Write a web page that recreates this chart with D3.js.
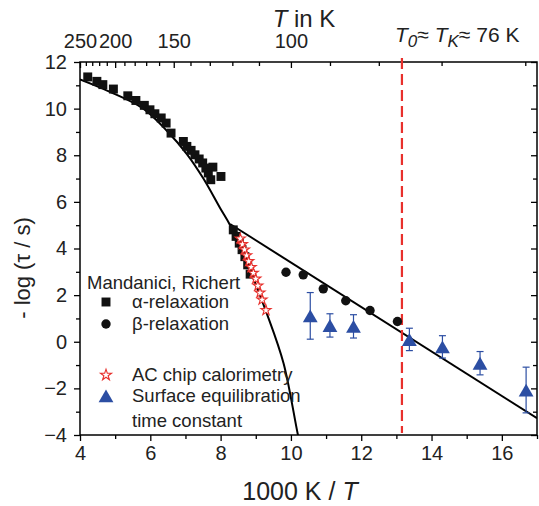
<!DOCTYPE html>
<html>
<head>
<meta charset="utf-8">
<script src="https://cdn.jsdelivr.net/npm/d3@7"></script>
<style>
    body { margin: 0; background: #fff; }
    svg { display: block; font-family: "Liberation Sans", Arial, sans-serif; }
</style>
</head>
<body>
<div id="chart"></div>
<script>
// Mandanici, Richert alpha relaxation (1000K/T, -log tau)
const alphaX = [4.22, 4.48, 4.65, 4.95, 5.36, 5.59, 5.83, 5.99, 6.13, 6.31, 6.45, 6.59, 6.94, 7.04, 7.16, 7.27, 7.39, 7.49, 7.58, 7.65, 7.72, 7.78, 8.01, 8.36, 8.44, 8.53, 8.61, 8.69, 8.77, 8.84];
const alphaY = [11.36, 11.17, 11.03, 10.84, 10.55, 10.35, 10.14, 9.95, 9.78, 9.60, 9.38, 8.95, 8.59, 8.38, 8.21, 8.02, 7.84, 7.67, 7.45, 7.24, 6.95, 7.49, 7.09, 4.80, 4.52, 4.23, 3.95, 3.65, 3.30, 2.90];

// beta relaxation
const betaX = [9.86, 10.35, 10.92, 11.56, 12.25, 13.03];
const betaY = [2.98, 2.87, 2.27, 1.76, 1.34, 0.87];

// AC chip calorimetry
const chipX = [8.56, 8.62, 8.68, 8.74, 8.80, 8.87, 8.93, 9.00, 9.06, 9.12, 9.18, 9.29];
const chipY = [4.42, 4.18, 3.95, 3.70, 3.45, 3.20, 2.95, 2.70, 2.40, 2.10, 1.80, 1.35];

// surface equilibration time constant, with error
const surfX = [10.55, 11.11, 11.78, 13.37, 14.31, 15.38, 16.69];
const surfY = [1.11, 0.70, 0.66, 0.10, -0.22, -0.92, -2.07];
const surfErr = [1.0, 0.5, 0.5, 0.48, 0.48, 0.5, 0.98];

// fitted curves
const vftX = [4.0, 4.85, 5.8, 6.47, 7.04, 7.51, 7.98, 8.27, 8.8, 9.31, 9.79, 10.21, 10.3];
const vftY = [11.25, 10.72, 10.0, 9.05, 8.05, 7.0, 5.75, 5.0, 3.2, 1.23, -0.92, -4.07, -4.6];
const arrX = [8.27, 17.0];
const arrY = [5.05, -3.28];

const T0 = 76;
const xTicksMajor = [4, 6, 8, 10, 12, 14, 16];
const xTicksMinor = [5, 7, 9, 11, 13, 15, 17];
const yTicksMajor = [-4, -2, 0, 2, 4, 6, 8, 10, 12];
const yTicksMinor = [-3, -1, 1, 3, 5, 7, 9, 11];
const tempMajor = [250, 200, 150, 100];
const tempMinor = [240, 230, 220, 210, 190, 180, 170, 160, 140, 130, 120, 110, 90, 80, 70, 60];

const width = 539;
const height = 506;
const margin = { top: 62, right: 2, bottom: 71, left: 80 };
const red = "#e8302c";
const blue = "#2c4ea3";

const svg = d3.select("#chart")
    .append("svg")
    .attr("width", width)
    .attr("height", height);

const x = d3.scaleLinear().domain([4, 17]).range([margin.left, width - margin.right]);
const y = d3.scaleLinear().domain([-4, 12]).range([height - margin.bottom, margin.top]);

svg.append("defs").append("clipPath").attr("id", "plot-clip")
    .append("rect")
    .attr("x", x(4)).attr("y", y(12))
    .attr("width", x(17) - x(4)).attr("height", y(-4) - y(12));

function styleAxis(g) {
    g.select(".domain").remove();
    g.selectAll("line").attr("stroke", "#000").attr("stroke-width", 1.3);
    g.selectAll("text").attr("font-size", 20).attr("fill", "#222").attr("font-family", "Liberation Sans, Arial, sans-serif");
}

// bottom
svg.append("g").attr("transform", `translate(0,${y(-4)})`)
    .call(d3.axisBottom(x).tickValues(xTicksMajor).tickSize(6).tickPadding(5).tickFormat(d3.format("d")))
    .call(styleAxis);
svg.append("g").attr("transform", `translate(0,${y(-4)})`)
    .call(d3.axisBottom(x).tickValues(xTicksMinor).tickSize(4).tickFormat(""))
    .call(styleAxis);

// left
svg.append("g").attr("transform", `translate(${x(4)},0)`)
    .call(d3.axisLeft(y).tickValues(yTicksMajor).tickSize(6).tickPadding(7).tickFormat(d3.format("d")))
    .call(styleAxis);
svg.append("g").attr("transform", `translate(${x(4)},0)`)
    .call(d3.axisLeft(y).tickValues(yTicksMinor).tickSize(4).tickFormat(""))
    .call(styleAxis);

// right, ticks inward
svg.append("g").attr("transform", `translate(${x(17)},0)`)
    .call(d3.axisRight(y).tickValues(yTicksMajor).tickSize(-6).tickFormat(""))
    .call(styleAxis);
svg.append("g").attr("transform", `translate(${x(17)},0)`)
    .call(d3.axisRight(y).tickValues(yTicksMinor).tickSize(-4).tickFormat(""))
    .call(styleAxis);

// top, temperature in K, ticks inward
svg.append("g").attr("transform", `translate(0,${y(12)})`)
    .call(d3.axisTop(x).tickValues(tempMajor.map(t => 1000 / t)).tickSize(-6).tickPadding(14)
        .tickFormat(d => Math.round(1000 / d)))
    .call(styleAxis);
svg.append("g").attr("transform", `translate(0,${y(12)})`)
    .call(d3.axisTop(x).tickValues(tempMinor.map(t => 1000 / t)).tickSize(-4).tickFormat(""))
    .call(styleAxis);

svg.append("rect")
    .attr("x", x(4)).attr("y", y(12))
    .attr("width", x(17) - x(4)).attr("height", y(-4) - y(12))
    .attr("fill", "none").attr("stroke", "#000").attr("stroke-width", 1.5);

const plot = svg.append("g").attr("clip-path", "url(#plot-clip)");

const line = d3.line().x(d => x(d[0])).y(d => y(d[1]));

plot.append("path")
    .datum(d3.zip(vftX, vftY))
    .attr("d", line.curve(d3.curveCatmullRom))
    .attr("fill", "none").attr("stroke", "#000").attr("stroke-width", 2);

plot.append("path")
    .datum(d3.zip(arrX, arrY))
    .attr("d", d3.line().x(d => x(d[0])).y(d => y(d[1])))
    .attr("fill", "none").attr("stroke", "#000").attr("stroke-width", 2);

// T0 marker
svg.append("line")
    .attr("x1", x(1000 / T0)).attr("x2", x(1000 / T0))
    .attr("y1", y(12) - 4).attr("y2", y(-4) - 2)
    .attr("stroke", red).attr("stroke-width", 2.2)
    .attr("stroke-dasharray", "11,5");

const sym = (type, size) => d3.symbol().type(type).size(size)();

const alphaG = svg.append("g");
alphaG.selectAll("path")
    .data(d3.zip(alphaX, alphaY))
    .enter().append("path")
    .attr("transform", d => `translate(${x(d[0])},${y(d[1])})`)
    .attr("d", sym(d3.symbolSquare, 80))
    .attr("fill", "#111");

svg.append("g").selectAll("circle")
    .data(d3.zip(betaX, betaY))
    .enter().append("circle")
    .attr("cx", d => x(d[0])).attr("cy", d => y(d[1]))
    .attr("r", 4.7)
    .attr("fill", "#111");

svg.append("g").selectAll("path")
    .data(d3.zip(chipX, chipY))
    .enter().append("path")
    .attr("transform", d => `translate(${x(d[0])},${y(d[1])})`)
    .attr("d", sym(d3.symbolStar, 32))
    .attr("fill", "#fff").attr("stroke", red).attr("stroke-width", 1.1);

// surface equilibration with error bars
const surf = svg.append("g").selectAll("g")
    .data(d3.zip(surfX, surfY, surfErr))
    .enter().append("g")
    .attr("transform", d => `translate(${x(d[0])},0)`);

surf.append("line")
    .attr("y1", d => y(d[1] + d[2])).attr("y2", d => y(d[1] - d[2]))
    .attr("stroke", blue).attr("stroke-width", 1.2);
surf.append("line")
    .attr("x1", -3.5).attr("x2", 3.5)
    .attr("y1", d => y(d[1] + d[2])).attr("y2", d => y(d[1] + d[2]))
    .attr("stroke", blue).attr("stroke-width", 1.2);
surf.append("line")
    .attr("x1", -3.5).attr("x2", 3.5)
    .attr("y1", d => y(d[1] - d[2])).attr("y2", d => y(d[1] - d[2]))
    .attr("stroke", blue).attr("stroke-width", 1.2);
surf.append("path")
    .attr("transform", d => `translate(0,${y(d[1]) + 2.2})`)
    .attr("d", sym(d3.symbolTriangle, 95))
    .attr("fill", blue);

// legend
const legend = svg.append("g").attr("font-size", 18.5).attr("fill", "#222");
legend.append("text").attr("x", 87).attr("y", 289).text("Mandanici, Richert");

const legendRows = [
    { y: 302, label: "α-relaxation" },
    { y: 324, label: "β-relaxation" },
    { y: 375, label: "AC chip calorimetry" },
    { y: 396, label: "Surface equilibration" }
];
legendRows.forEach(r => {
    legend.append("text").attr("x", 132).attr("y", r.y).attr("dy", "0.35em").text(r.label);
});
legend.append("text").attr("x", 132).attr("y", 421).attr("dy", "0.35em").text("time constant");

legend.append("path").attr("transform", "translate(106,302)").attr("d", sym(d3.symbolSquare, 80)).attr("fill", "#111");
legend.append("circle").attr("cx", 106).attr("cy", 324).attr("r", 4.7).attr("fill", "#111");
legend.append("path").attr("transform", "translate(106,375)").attr("d", sym(d3.symbolStar, 38))
    .attr("fill", "#fff").attr("stroke", red).attr("stroke-width", 1.1);
legend.append("path").attr("transform", "translate(106,398)").attr("d", sym(d3.symbolTriangle, 95)).attr("fill", blue);

// titles
const xTitle = svg.append("text")
    .attr("x", 300).attr("y", 500)
    .attr("text-anchor", "middle").attr("font-size", 25).attr("fill", "#222");
xTitle.append("tspan").text("1000 K / ");
xTitle.append("tspan").attr("font-style", "italic").text("T");

const yTitle = svg.append("text")
    .attr("transform", "translate(30,268) rotate(-90)")
    .attr("text-anchor", "middle").attr("font-size", 22).attr("fill", "#222");
yTitle.append("tspan").text("- log (");
yTitle.append("tspan").text("τ");
yTitle.append("tspan").text(" / s)");

const topTitle = svg.append("text")
    .attr("x", 304).attr("y", 27)
    .attr("text-anchor", "middle").attr("font-size", 24).attr("fill", "#222");
topTitle.append("tspan").attr("font-style", "italic").text("T");
topTitle.append("tspan").text(" in K");

const t0Label = svg.append("text")
    .attr("x", 395).attr("y", 42)
    .attr("font-size", 21).attr("fill", "#222");
t0Label.append("tspan").attr("font-style", "italic").text("T");
t0Label.append("tspan").attr("font-style", "italic").attr("font-size", 17).attr("dy", 5).text("0");
t0Label.append("tspan").attr("dy", -5).text("≈ ");
t0Label.append("tspan").attr("font-style", "italic").text("T");
t0Label.append("tspan").attr("font-style", "italic").attr("font-size", 17).attr("dy", 5).text("K");
t0Label.append("tspan").attr("dy", -5).text("≈ 76 K");
</script>
</body>
</html>
